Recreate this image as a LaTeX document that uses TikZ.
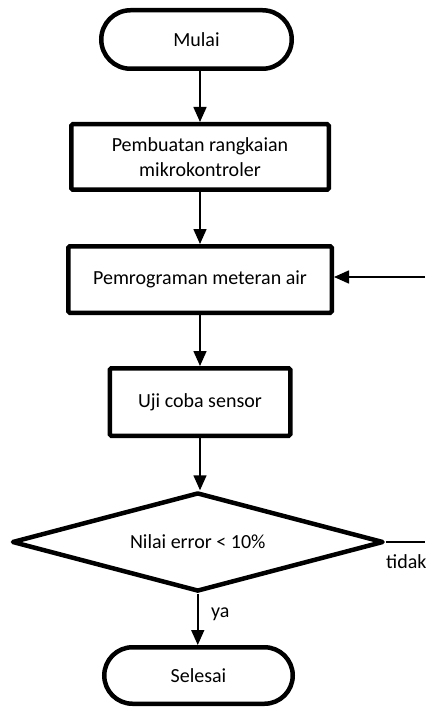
\documentclass[tikz,border=0pt]{standalone}
\usepackage{fontspec}
\setmainfont{Carlito}
\usetikzlibrary{arrows.meta,shapes.geometric,shapes.misc}
\begin{document}
\begin{tikzpicture}[x=1pt,y=-1pt,
 every node/.style={font=\fontsize{20}{24.4}\selectfont},
 term/.style={draw, line width=4.5pt, rounded rectangle, inner sep=0pt},
 proc/.style={draw, line width=4.5pt, rounded corners=1.5pt, inner sep=0pt, align=center},
 dec/.style={draw, line width=4.5pt, diamond, aspect=3.76, inner sep=0pt, line join=round},
 arr/.style={line width=1.6pt, -{Triangle[length=15pt,width=13pt]}},
 plain/.style={line width=1.6pt},
 lbl/.style={inner sep=0pt}]
\useasboundingbox (0,0) rectangle (425,711);
\node[term, minimum width=190.5pt, minimum height=58.5pt] (mulai) at (196.5,39.5) {Mulai};
\node[proc, minimum width=257.5pt, minimum height=65.5pt] (b2) at (200,157) {Pembuatan rangkaian\\mikrokontroler};
\node[proc, minimum width=263.5pt, minimum height=66.5pt] (b3) at (200,279.5) {Pemrograman meteran air};
\node[proc, minimum width=180.5pt, minimum height=67.5pt] (b4) at (200,402) {Uji coba sensor};
\node[dec, minimum width=371.5pt, minimum height=99pt] (dec) at (197.75,542) {Nilai error < 10\%};
\node[term, minimum width=188.5pt, minimum height=56.5pt] (sel) at (198.5,675.5) {Selesai};
\coordinate (edgeR) at (425,0);
\coordinate (fbin) at (425,277);
\draw[arr] (mulai.south -| b2.north) -- (b2.north);
\draw[arr] (b2.south) -- (b3.north);
\draw[arr] (b3.south) -- (b4.north);
\draw[arr] (b4.south) -- (b4.south |- dec.north);
\draw[arr] (dec.south) -- (dec.south |- sel.north);
\draw[plain] (dec.east) -- (dec.east -| edgeR);
\draw[arr] (fbin) -- (fbin -| b3.east);
\node[lbl, anchor=base west] (ya) at (211,617) {ya};
\node[lbl, anchor=base west] (tidak) at (386,568) {tidak};
\end{tikzpicture}
\end{document}
